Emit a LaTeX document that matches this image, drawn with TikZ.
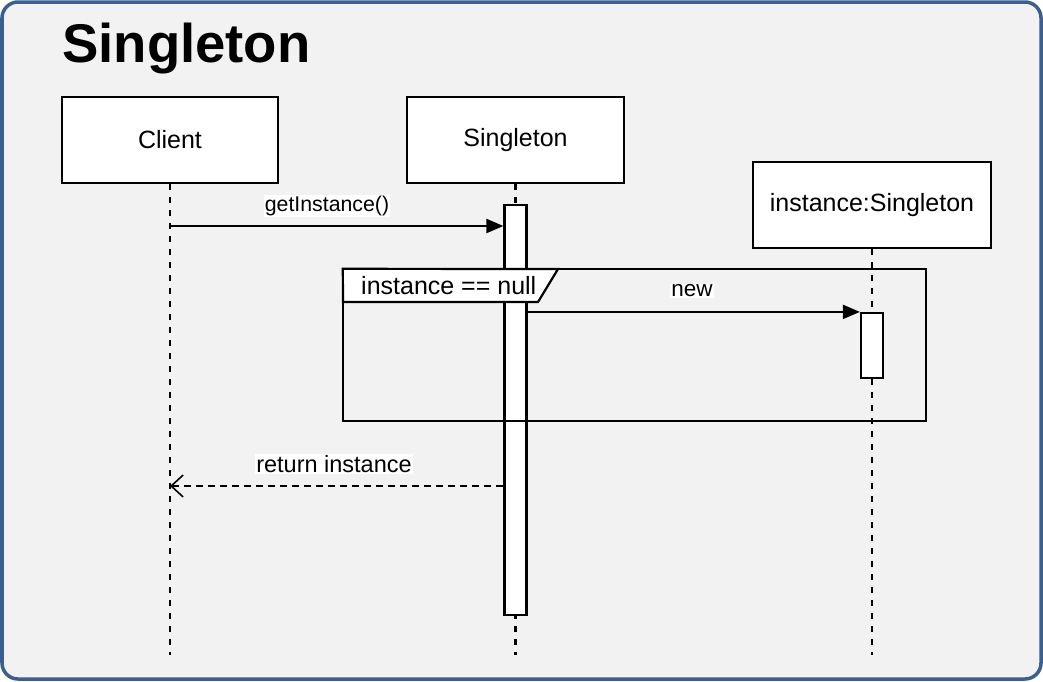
\documentclass[tikz,border=0pt]{standalone}
\usepackage{fontspec}
\setmainfont{Liberation Sans}
\usetikzlibrary{arrows.meta}
\definecolor{bgcol}{HTML}{F2F2F2}
\definecolor{framecol}{HTML}{3B5F8E}
\begin{document}
\begin{tikzpicture}[x=1pt,y=-1pt,
  obj/.style={draw=black,line width=2.2pt,fill=white,minimum width=#1,minimum height=86pt,inner sep=0pt,font=\fontsize{25}{28}\selectfont},
  actbox/.style={draw=black,line width=2.2pt,fill=white,inner sep=0pt},
  lifeline/.style={line width=2.2pt,dash pattern=on 6pt off 7pt},
  msg/.style={line width=2.2pt,-{Triangle[length=17pt,width=14pt]}},
  retmsg/.style={line width=2.2pt,dash pattern=on 7pt off 5pt,-{Straight Barb[length=12pt,width=22pt,line width=1.6pt]}},
  lbl/.style={fill=white,inner sep=1pt},
]
\useasboundingbox (0,0) rectangle (1043,681);
% background frame
\draw[fill=bgcol,draw=framecol,line width=3.5pt,rounded corners=16pt] (2,2) rectangle (1041,679);
% title
\node[anchor=base west,inner sep=0pt,font=\fontsize{54.5}{60}\selectfont\bfseries] (title) at (62,62) {Singleton};

% objects
\node[obj=216pt] (client) at (170,140) {Client};
\node[obj=217pt] (single) at (515.5,140) {Singleton};
\node[obj=238pt,minimum height=86pt] (inst) at (872,205) {instance:Singleton};

% lifeline ends
\coordinate (clientEnd) at (170,655);
\coordinate (singleEnd) at (515.5,655);
\coordinate (instEnd) at (872,655);
\draw[lifeline] (client.south) -- (clientEnd);
\draw[lifeline] (single.south) -- (singleEnd);
\draw[lifeline] (inst.south) -- (instEnd);

% activations
\node[actbox,minimum width=22pt,minimum height=410pt] (act1) at (515.5,410) {};
\node[actbox,minimum width=22pt,minimum height=65pt] (act2) at (872,345.5) {};

% getInstance
\coordinate (c1) at (170,226);
\draw[msg] (c1) -- (c1 -| act1.west);
\node[lbl,font=\fontsize{21.3}{24}\selectfont] (l1) at (327,206) {getInstance()};

% fragment
\node[inner sep=0pt,minimum width=583pt,minimum height=152pt] (frag) at (634.5,345) {};
\coordinate (tabTR) at (558,269);
\coordinate (tabBR) at (538,302);
\coordinate (tabBL) at (343,302);
\draw[line width=2.2pt,fill=white,line join=miter] (frag.north west) -- (tabTR) -- (tabBR) -- (tabBL) -- cycle;
\draw[line width=2.2pt] (frag.north west) rectangle (frag.south east);
\node[anchor=west,inner sep=0pt,font=\fontsize{25}{28}\selectfont] (cond) at (361,286) {instance == null};

% new
\draw[msg] (act1.east |- act2.north) -- (act2.north west);
\node[lbl,font=\fontsize{22.5}{26}\selectfont] (l2) at (692,291) {new};

% return
\coordinate (c3) at (170,486);
\draw[retmsg] (act1.west |- c3) -- (c3);
\node[lbl,font=\fontsize{23.5}{26}\selectfont] (l3) at (334,464) {return instance};
\end{tikzpicture}
\end{document}
